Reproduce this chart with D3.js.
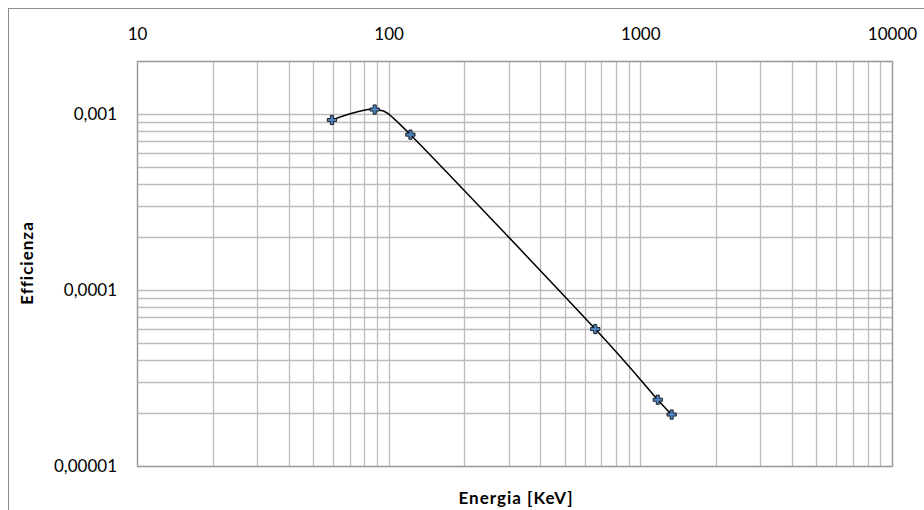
<!DOCTYPE html>
<html>
<head>
<meta charset="utf-8">
<script src="https://cdn.jsdelivr.net/npm/d3@7"></script>
<style>
  body { margin: 0; background: #fff; }
  text { font-family: Lato, "Open Sans", sans-serif; fill: #000; }
</style>
</head>
<body>
<div class="chart"></div>
<script>
// efficiency vs energy, log-log
const energies = [59.5, 88, 122, 662, 1173, 1332];
const efficiencies = [0.000924, 0.00106, 0.000763, 0.0000600, 0.0000238, 0.0000196];

const xTickValues = [10, 100, 1000, 10000];
const xTickLabels = ["10", "100", "1000", "10000"];
const yTickValues = [0.00001, 0.0001, 0.001];
const yTickLabels = ["0,00001", "0,0001", "0,001"];

const W = 924, H = 510;
const margin = ({top: 61, right: 32, bottom: 44, left: 137});
const width = W - margin.left - margin.right,
    height = H - margin.top - margin.bottom;

var svg = d3.select(".chart").append("svg")
    .attr("width", W)
    .attr("height", H);

// outer chart frame (runs off right/bottom)
svg.append("rect")
    .attr("x", 8.5).attr("y", 8.5)
    .attr("width", W).attr("height", H)
    .attr("fill", "none")
    .attr("stroke", "#8c8c8c")
    .attr("stroke-width", 1);

var g = svg.append("g")
    .attr("transform", "translate(" + margin.left + "," + margin.top + ")");

const xScale = d3.scaleLog()
    .domain([10, 10000])
    .range([0, width]);

const yScale = d3.scaleLog()
    .domain([0.00001, 0.002])
    .range([height, 0]);

// grid lines (major + minor)
const xGrid = [];
for (let d = 10; d < 10000; d *= 10)
    for (let k = 1; k < 10; k++) xGrid.push(d * k);
xGrid.push(10000);
const yGrid = [];
for (let d = 0.00001; d < 0.001; d *= 10)
    for (let k = 1; k < 10; k++) yGrid.push(d * k);
yGrid.push(0.001, 0.002);

g.selectAll(".vgrid").data(xGrid).enter().append("line")
    .attr("class", "vgrid")
    .attr("x1", d => Math.round(xScale(d)) + 0.5)
    .attr("x2", d => Math.round(xScale(d)) + 0.5)
    .attr("y1", 0).attr("y2", height)
    .attr("stroke", "#bcbcbc")
    .attr("stroke-width", 1.3);

g.selectAll(".hgrid").data(yGrid).enter().append("line")
    .attr("class", "hgrid")
    .attr("y1", d => Math.round(yScale(d)) + 0.5)
    .attr("y2", d => Math.round(yScale(d)) + 0.5)
    .attr("x1", 0).attr("x2", width)
    .attr("stroke", "#bcbcbc")
    .attr("stroke-width", 1.3);

g.append("rect")
    .attr("x", 0.5).attr("y", 0.5)
    .attr("width", width).attr("height", height)
    .attr("fill", "none")
    .attr("stroke", "#9a9a9a")
    .attr("stroke-width", 1.3);

// axes: labels only
const xAxis = d3.axisTop(xScale)
    .tickValues(xTickValues)
    .tickFormat((d, i) => xTickLabels[i])
    .tickSize(0).tickPadding(21);

const yAxis = d3.axisLeft(yScale)
    .tickValues(yTickValues)
    .tickFormat((d, i) => yTickLabels[i])
    .tickSize(0).tickPadding(20);

g.append("g")
    .attr("class", "axis x-axis")
    .call(xAxis)
    .call(a => a.select(".domain").remove())
    .selectAll("text").style("font-size", "17px").attr("font-family", null);

g.append("g")
    .attr("class", "axis y-axis")
    .call(yAxis)
    .call(a => a.select(".domain").remove())
    .selectAll("text").style("font-size", "17px").attr("font-family", null);

// axis titles
svg.append("text")
    .attr("x", 516).attr("y", 504)
    .attr("text-anchor", "middle")
    .style("font-size", "17px").style("font-weight", "bold")
    .style("letter-spacing", "1px")
    .text("Energia [KeV]");

svg.append("text")
    .attr("transform", "translate(33,263) rotate(-90)")
    .attr("text-anchor", "middle")
    .style("font-size", "17px").style("font-weight", "bold")
    .style("letter-spacing", "1px")
    .text("Efficienza");

// smoothed line
const pts = energies.map((e, i) => [e, efficiencies[i]]);
const line = d3.line()
    .x(d => xScale(d[0]))
    .y(d => yScale(d[1]))
    .curve(d3.curveCardinal.tension(0.2));

g.append("path")
    .datum(pts)
    .attr("d", line)
    .attr("fill", "none")
    .attr("stroke", "#000")
    .attr("stroke-width", 1.5);

// markers
g.selectAll(".marker").data(pts).enter().append("path")
    .attr("class", "marker")
    .attr("transform", d => "translate(" + xScale(d[0]) + "," + yScale(d[1]) + ")")
    .attr("d", d3.symbol().type(d3.symbolCross).size(48))
    .attr("fill", "#4f81bd")
    .attr("stroke", "#000")
    .attr("stroke-width", 0.8);
</script>
</body>
</html>
